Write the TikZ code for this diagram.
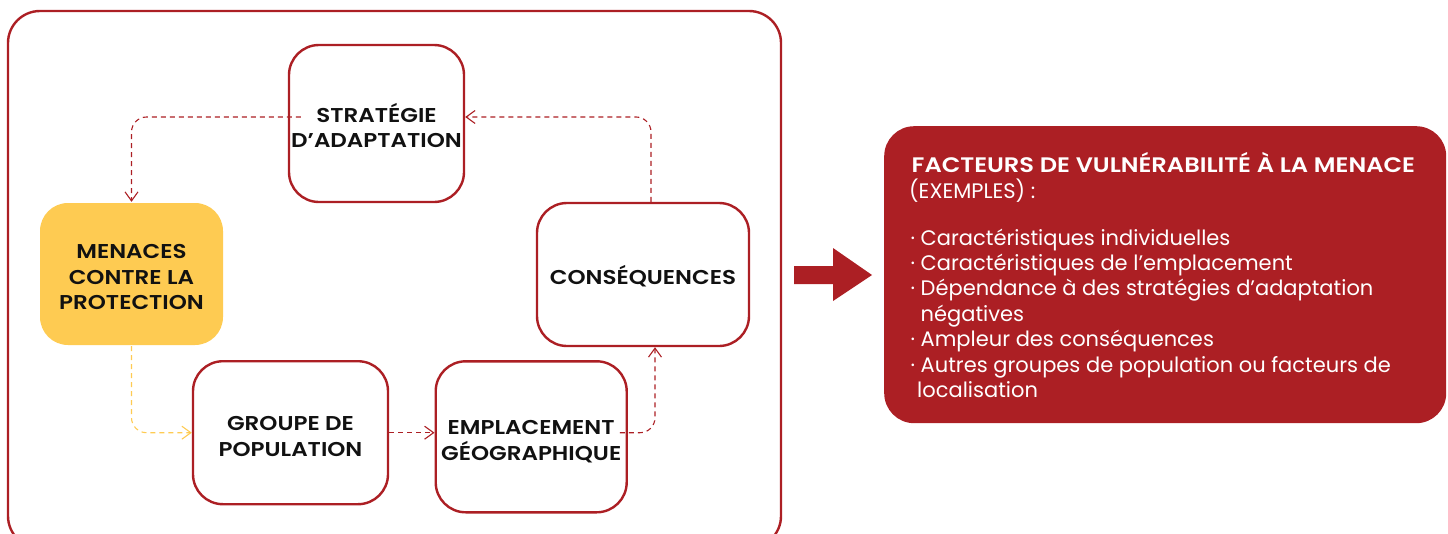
\documentclass[tikz,border=0pt]{standalone}
\usepackage{fontspec}
\setmainfont{Poppins}[BoldFont={Poppins SemiBold},BoldFeatures={FakeStretch=1.15}]
\usetikzlibrary{arrows.meta}
\definecolor{dred}{HTML}{AC1F24}
\definecolor{myel}{HTML}{FECB52}
\definecolor{ink}{HTML}{111111}
\tikzset{
  box/.style={draw=dred,line width=2.4pt,rounded corners=30pt,fill=white,inner sep=0pt},
  btxt/.style={align=center,font=\fontsize{20}{25.8}\selectfont\bfseries,text=ink,inner sep=0pt},
  conn/.style={draw=dred,line width=1.1pt,dash pattern=on 5pt off 4pt,rounded corners=15pt,
    -{Straight Barb[length=9pt,width=13pt,line width=1.1pt]}},
  yconn/.style={conn,draw=myel},
  ptxt/.style={anchor=base west,text=white,inner sep=0pt,font=\fontsize{21}{25.4}\selectfont},
}
\newcommand{\bdot}{\makebox[10pt][l]{·}}
\begin{document}
\begin{tikzpicture}[x=1pt,y=-1pt]
\useasboundingbox (0,0) rectangle (1448,533);
\clip (0,0) rectangle (1448,533);
% outer frame
\draw[dred,line width=2.4pt,rounded corners=32pt] (8,11) rectangle (781,548);
% boxes
\node[box,minimum width=175pt,minimum height=157pt] (strat) at (376.5,123.5) {};
\node[box,draw=none,fill=myel,minimum width=183pt,minimum height=142pt,rounded corners=28pt] (men) at (131.5,274) {};
\node[box,minimum width=212pt,minimum height=143pt] (cons) at (643,274.5) {};
\node[box,minimum width=195pt,minimum height=143pt] (grp) at (290.5,432.7) {};
\node[box,minimum width=191pt,minimum height=151pt] (empl) at (531.2,436.8) {};
\node[btxt] (stratT) at ([yshift=-2pt]strat.center) {STRATÉGIE\\D’ADAPTATION};
\node[btxt] (menT) at ([yshift=-3pt]men.center) {MENACES\\CONTRE LA\\PROTECTION};
\node[btxt] (consT) at ([yshift=-2pt]cons.center) {CONSÉQUENCES};
\node[btxt] (grpT) at ([yshift=-4pt]grp.center) {GROUPE DE\\POPULATION};
\node[btxt] (emplT) at ([yshift=-5pt]empl.center) {EMPLACEMENT\\GÉOGRAPHIQUE};
% connectors
\draw[conn] ([xshift=8pt]cons.north) |- ([yshift=6.5pt]strat.east);
\draw[conn] ([xshift=13pt,yshift=6.5pt]strat.west) -| (men.north);
\draw[yconn] (men.south) |- (grp.west);
\draw[conn] (grp.east) -- (grp.east -| empl.west);
\draw[conn] ([xshift=-8pt]grp.east -| empl.east) -| ([xshift=12pt]cons.south);
% big arrow
\fill[dred] (794,266) -- (833,266) -- (833,248) -- (872,275) -- (833,301) -- (833,284) -- (794,284) -- cycle;
% panel
\node[fill=dred,rounded corners=30pt,minimum width=562pt,minimum height=297pt,anchor=north west,inner sep=0pt] (panel) at (884,126) {};
\node[ptxt,font=\fontsize{21}{25.4}\selectfont\bfseries] (t1) at (911.5,172.3) {FACTEURS DE VULNÉRABILITÉ À LA MENACE};
\node[ptxt] (t2) at (909,198.3) {(EXEMPLES) :};
\node[ptxt] (t3) at (910.5,245) {\bdot Caractéristiques individuelles};
\node[ptxt] (t4) at (910.5,270.4) {\bdot Caractéristiques de l’emplacement};
\node[ptxt] (t5) at (910.5,295.8) {\bdot Dépendance à des stratégies d’adaptation};
\node[ptxt] (t6) at (920.5,321.2) {négatives};
\node[ptxt] (t7) at (910.5,346.6) {\bdot Ampleur des conséquences};
\node[ptxt] (t8) at (910.5,372) {\bdot Autres groupes de population ou facteurs de};
\node[ptxt] (t9) at (917,397.4) {localisation};
\end{tikzpicture}
\end{document}
